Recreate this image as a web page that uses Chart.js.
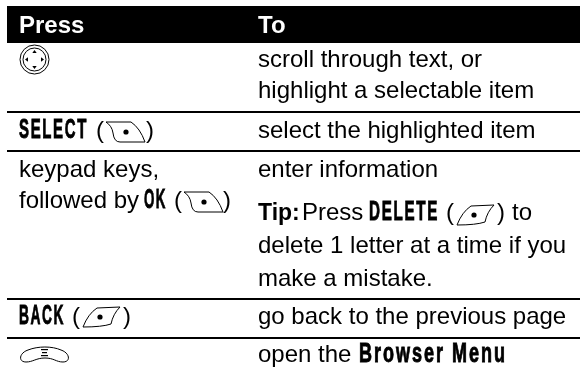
<!DOCTYPE html>
<html>
<head>
<meta charset="utf-8">
<style>
	html, body { margin: 0; padding: 0; background: #fff; }
	#wrap { width: 580px; height: 373px; }
</style>
<script src="https://cdn.jsdelivr.net/npm/chart.js@4/dist/chart.umd.min.js"></script>
</head>
<body>
<div id="wrap"><canvas id="tableChart" width="580" height="373"></canvas></div>
<script>
// Table content
const headers = ["Press", "To"];
const selectKey = "SELECT";
const backKey = "BACK";
const okKey = "OK";
const deleteKey = "DELETE";
const menuName = "Browser Menu";
const scrollLines = ["scroll through text, or", "highlight a selectable item"];
const selectLine = "select the highlighted item";
const keypadLines = ["keypad keys,", "followed by"];
const enterLine = "enter information";
const tipLines = ["Tip:", "Press", "to", "delete 1 letter at a time if you", "make a mistake."];
const backLine = "go back to the previous page";
const openLine = "open the";

// Rows on a 0-373 scale: the header band and the rules under each row
const headerBand = 24.5;
const rowRules = [112, 151, 299, 338];

const BODY = "24px 'Liberation Sans'";
const HEAD = "bold 24px 'Liberation Sans'";
const KEY = "bold 27px 'Liberation Sans'";

function text(ctx, str, x, y, font, color) {
	ctx.font = font || BODY;
	ctx.fillStyle = color || "#000";
	ctx.fillText(str, x, y);
}

// Condensed key label, squeezed to the wanted width and thickened a bit
function keyText(ctx, str, x, y, width) {
	ctx.save();
	ctx.font = KEY;
	ctx.letterSpacing = "3px";
	ctx.fillStyle = "#000";
	ctx.strokeStyle = "#000";
	ctx.lineWidth = 0.9;
	ctx.translate(x, y);
	ctx.scale(width / ctx.measureText(str).width, 1);
	ctx.fillText(str, 0, 0);
	ctx.strokeText(str, 0, 0);
	ctx.restore();
}

function dot(ctx, x, y, r) {
	ctx.beginPath();
	ctx.arc(x, y, r, 0, Math.PI * 2);
	ctx.fill();
}

// Right soft key icon, x/y is its top left corner
function rightKey(ctx, x, y) {
	ctx.beginPath();
	ctx.moveTo(x + 1, y + 2);
	ctx.lineTo(x + 26, y + 2);
	ctx.quadraticCurveTo(x + 35, y + 8, x + 40, y + 22);
	ctx.lineTo(x + 15, y + 22);
	ctx.quadraticCurveTo(x + 9, y + 22, x + 8, y + 13);
	ctx.quadraticCurveTo(x + 7, y + 6, x + 1, y + 2);
	ctx.stroke();
	dot(ctx, x + 21, y + 12, 2.6);
}

// Left soft key icon
function leftKey(ctx, x, y) {
	ctx.beginPath();
	ctx.moveTo(x + 1, y + 22);
	ctx.quadraticCurveTo(x + 6, y + 9, x + 15, y + 3);
	ctx.lineTo(x + 38, y + 2);
	ctx.quadraticCurveTo(x + 31, y + 9, x + 29, y + 19);
	ctx.quadraticCurveTo(x + 20, y + 22, x + 1, y + 22);
	ctx.stroke();
	dot(ctx, x + 18, y + 12, 2.6);
}

function navKey(ctx, x, y) {
	ctx.beginPath();
	ctx.arc(x, y, 14.5, 0, Math.PI * 2);
	ctx.stroke();
	ctx.beginPath();
	ctx.arc(x, y, 11.5, 0, Math.PI * 2);
	ctx.stroke();
	[0, 1, 2, 3].forEach(function (i) {
		ctx.save();
		ctx.translate(x, y);
		ctx.rotate((i * Math.PI) / 2);
		ctx.beginPath();
		ctx.moveTo(0, -9.5);
		ctx.lineTo(2.2, -6.5);
		ctx.lineTo(-2.2, -6.5);
		ctx.closePath();
		ctx.fill();
		ctx.restore();
	});
}

function menuKey(ctx, x, y) {
	ctx.beginPath();
	ctx.moveTo(x + 6, y + 15);
	ctx.bezierCurveTo(x - 2, y + 15, x - 1, y + 6, x + 8, y + 3);
	ctx.bezierCurveTo(x + 18, y - 1, x + 32, y - 1, x + 41, y + 3);
	ctx.bezierCurveTo(x + 50, y + 6, x + 51, y + 15, x + 43, y + 15);
	ctx.bezierCurveTo(x + 36, y + 15, x + 34, y + 11, x + 25, y + 11);
	ctx.bezierCurveTo(x + 16, y + 11, x + 13, y + 15, x + 6, y + 15);
	ctx.stroke();
	ctx.fillRect(x + 21, y + 2, 7, 1.2);
	ctx.fillRect(x + 22, y + 5, 5, 1.2);
	ctx.fillRect(x + 21, y + 8, 7, 1.2);
}

const tablePlugin = {
	id: "tableText",
	afterDatasetsDraw(chart) {
		const ctx = chart.ctx;
		const px = (v) => chart.scales.x.getPixelForValue(v);
		const py = (v) => chart.scales.y.getPixelForValue(v);
		const c1 = px(19);
		const c2 = px(258);

		ctx.save();
		ctx.textBaseline = "alphabetic";
		ctx.textAlign = "left";
		ctx.strokeStyle = "#000";
		ctx.lineWidth = 1;

		text(ctx, headers[0], c1, py(33), HEAD, "#fff");
		text(ctx, headers[1], c2, py(33), HEAD, "#fff");
		ctx.fillStyle = "#000";

		// scroll row
		navKey(ctx, px(34.5), py(59.5));
		text(ctx, scrollLines[0], c2, py(67));
		text(ctx, scrollLines[1], c2, py(98));

		// select row
		keyText(ctx, selectKey, c1, py(138), 69);
		text(ctx, "(", px(96), py(138));
		rightKey(ctx, px(105), py(120));
		text(ctx, ")", px(146), py(138));
		text(ctx, selectLine, c2, py(138));

		// keypad row
		text(ctx, keypadLines[0], c1, py(177));
		text(ctx, keypadLines[1], c1, py(208));
		keyText(ctx, okKey, px(144), py(208), 23);
		text(ctx, "(", px(174), py(208));
		rightKey(ctx, px(183), py(190));
		text(ctx, ")", px(223), py(208));
		text(ctx, enterLine, c2, py(177));

		text(ctx, tipLines[0], c2, py(220), "bold 23px 'Liberation Sans'");
		text(ctx, tipLines[1], px(302), py(220));
		keyText(ctx, deleteKey, px(369), py(220), 70);
		text(ctx, "(", px(446), py(220));
		leftKey(ctx, px(456), py(203));
		text(ctx, ")", px(497), py(220));
		text(ctx, tipLines[2], px(512), py(220));
		text(ctx, tipLines[3], c2, py(253));
		text(ctx, tipLines[4], c2, py(286));

		// back row
		keyText(ctx, backKey, c1, py(324), 46);
		text(ctx, "(", px(72), py(324));
		leftKey(ctx, px(82), py(305));
		text(ctx, ")", px(123), py(324));
		text(ctx, backLine, c2, py(324));

		// menu row
		menuKey(ctx, px(20), py(347));
		text(ctx, openLine, c2, py(362));
		keyText(ctx, menuName, px(359), py(362), 148);

		ctx.restore();
	},
};

const ruleSets = rowRules.map(function (y) {
	return {
		data: [{ x: 7, y: y }, { x: 580, y: y }],
		borderColor: "#000",
		borderWidth: 2,
		pointRadius: 0,
		showLine: true,
	};
});

new Chart(document.getElementById("tableChart").getContext("2d"), {
	type: "scatter",
	data: {
		datasets: [
			{
				data: [{ x: 7, y: headerBand }, { x: 580, y: headerBand }],
				borderColor: "#000",
				borderWidth: 37,
				borderCapStyle: "butt",
				pointRadius: 0,
				showLine: true,
			},
		].concat(ruleSets),
	},
	options: {
		responsive: false,
		animation: false,
		layout: { padding: 0 },
		plugins: {
			legend: { display: false },
			tooltip: { enabled: false },
		},
		scales: {
			x: { type: "linear", display: false, min: 0, max: 580 },
			y: { type: "linear", display: false, min: 0, max: 373, reverse: true },
		},
	},
	plugins: [tablePlugin],
});
</script>
</body>
</html>
